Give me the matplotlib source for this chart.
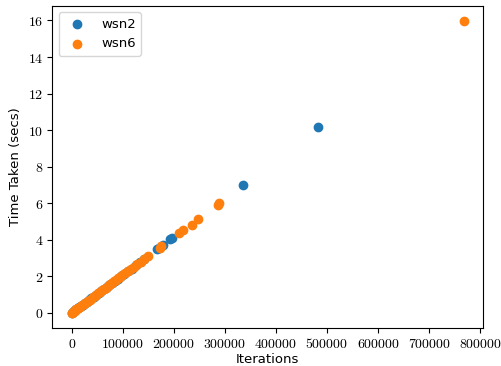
import matplotlib
matplotlib.use("Agg")
import matplotlib.pyplot as plt
from matplotlib.ticker import FuncFormatter

# wsn2 runs
wsn2_iters = [500, 2000, 4000, 6500, 9000, 12000, 15000, 18500, 22000, 26000,
              30000, 34000, 38500, 43000, 48000, 53000, 58000, 63000, 68000, 73000,
              78000, 84000, 90000, 96000, 103000, 110000, 117000, 125000, 133000, 141000,
              166000, 170000, 179000, 193000, 197000, 336000, 483000]
wsn2_time = [0.01, 0.04, 0.08, 0.14, 0.19, 0.25, 0.31, 0.38, 0.46, 0.54,
             0.62, 0.71, 0.80, 0.89, 1.00, 1.10, 1.21, 1.31, 1.41, 1.52,
             1.62, 1.75, 1.87, 2.00, 2.14, 2.29, 2.43, 2.60, 2.77, 2.93,
             3.52, 3.58, 3.74, 4.04, 4.12, 7.02, 10.15]

# wsn6 runs
wsn6_iters = [0, 1000, 2500, 4000, 5500, 7000, 9000, 11000, 13000, 15500,
              18000, 20500, 23000, 26000, 29000, 32000, 35000, 38000, 41000, 44500,
              48000, 51500, 55000, 59000, 63000, 67000, 71000, 75000, 79000, 83000,
              87000, 91000, 95000, 99000, 104000, 110000, 116000, 122000, 128000, 135000,
              141000, 150000, 172000, 175000, 210000, 218000, 235000, 247000, 287000, 288000,
              768000]
wsn6_time = [0.0, 0.02, 0.05, 0.08, 0.11, 0.15, 0.19, 0.23, 0.27, 0.32,
             0.37, 0.43, 0.48, 0.54, 0.60, 0.67, 0.73, 0.79, 0.85, 0.93,
             1.00, 1.07, 1.14, 1.23, 1.31, 1.39, 1.48, 1.56, 1.64, 1.73,
             1.81, 1.89, 1.98, 2.06, 2.16, 2.29, 2.41, 2.54, 2.66, 2.81,
             2.93, 3.13, 3.58, 3.65, 4.38, 4.53, 4.82, 5.13, 5.88, 6.00,
             15.97]

plt.rcParams['mathtext.fontset'] = 'cm'

fig = plt.figure(figsize=(5.02, 3.66), dpi=100)
ax = fig.add_axes([0.104, 0.105, 0.859, 0.879])
ax.scatter(wsn2_iters, wsn2_time, label='wsn2')
ax.scatter(wsn6_iters, wsn6_time, label='wsn6')

ax.set_xticks([0, 100000, 200000, 300000, 400000, 500000, 600000, 700000, 800000])
ax.set_yticks([0, 2, 4, 6, 8, 10, 12, 14, 16])
ax.xaxis.set_major_formatter(FuncFormatter(lambda v, p: r'$%d$' % v))
ax.yaxis.set_major_formatter(FuncFormatter(lambda v, p: r'$%d$' % v))
ax.tick_params(labelsize=10, length=3.5, pad=3)
ax.set_xlim(-38400, 806400)
ax.set_ylim(-0.8, 16.8)

ax.set_xlabel('Iterations', fontsize=9.5, labelpad=2)
ax.set_ylabel('Time Taken (secs)', fontsize=9.5, labelpad=4)
ax.legend(loc='upper left', fontsize=9.5)

fig.savefig('out.png', dpi=100)
